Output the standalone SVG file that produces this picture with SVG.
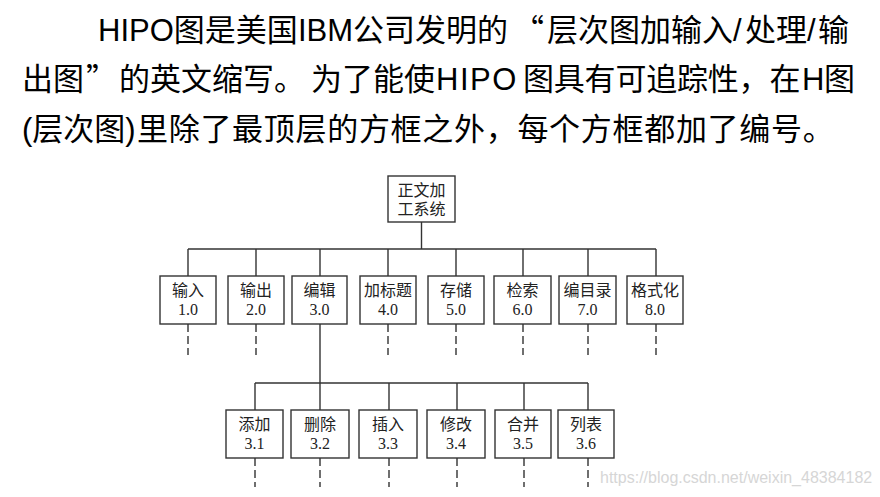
<svg xmlns="http://www.w3.org/2000/svg" width="880" height="497" viewBox="0 0 880 497">
<style>
.hd{font-family:"Liberation Sans","Noto Sans CJK SC",sans-serif;font-size:31px;fill:#000}
.q{font-family:"Noto Sans CJK SC",sans-serif}
.box{fill:#fff;stroke:#333;stroke-width:1.4}
.t{font-family:"Liberation Serif","Noto Sans CJK SC",serif;font-size:16px;fill:#222;text-anchor:middle}
.ln{stroke:#333;stroke-width:1.4;fill:none}
.dash{stroke:#333;stroke-width:1.4;fill:none;stroke-dasharray:8 4}
.wm{font-family:"Liberation Sans",Arial,sans-serif;font-size:16px;fill:#d6d6d6}
</style>
<rect width="880" height="497" fill="#fff"/>
<g id="header">
<text class="hd" y="41"><tspan x="98">HIPO图是美国</tspan><tspan x="298">IBM公司发明的</tspan><tspan class="q" x="513">“</tspan><tspan x="547">层次图加输入/</tspan><tspan x="745">处理/</tspan><tspan x="818">输</tspan></text>
<text class="hd" y="90"><tspan x="22">出图</tspan><tspan class="q" x="86">”</tspan><tspan x="119">的英文缩写。</tspan><tspan x="311">为了能使</tspan><tspan x="436" letter-spacing="1.5">HIPO</tspan><tspan x="523" letter-spacing="-0.2">图具有可追踪性，在</tspan><tspan x="802">H</tspan><tspan x="824">图</tspan></text>
<text class="hd" y="140"><tspan x="22">(层次图)</tspan><tspan x="137" letter-spacing="0.7">里除了最顶层的方框之外，每个方框都加了编号。</tspan></text>
</g>
<g id="connectors">
<line class="ln" x1="421.5" y1="222" x2="421.5" y2="249"/>
<line class="ln" x1="188" y1="249" x2="656" y2="249"/>
<line class="ln" x1="188" y1="249" x2="188" y2="276"/>
<line class="ln" x1="256" y1="249" x2="256" y2="276"/>
<line class="ln" x1="320" y1="249" x2="320" y2="276"/>
<line class="ln" x1="388" y1="249" x2="388" y2="276"/>
<line class="ln" x1="456" y1="249" x2="456" y2="276"/>
<line class="ln" x1="523" y1="249" x2="523" y2="276"/>
<line class="ln" x1="588" y1="249" x2="588" y2="276"/>
<line class="ln" x1="656" y1="249" x2="656" y2="276"/>
<line class="dash" x1="188" y1="324" x2="188" y2="355"/>
<line class="dash" x1="256" y1="324" x2="256" y2="355"/>
<line class="dash" x1="388" y1="324" x2="388" y2="355"/>
<line class="dash" x1="456" y1="324" x2="456" y2="355"/>
<line class="dash" x1="523" y1="324" x2="523" y2="355"/>
<line class="dash" x1="588" y1="324" x2="588" y2="355"/>
<line class="dash" x1="656" y1="324" x2="656" y2="355"/>
<line class="ln" x1="320" y1="324" x2="320" y2="410"/>
<line class="ln" x1="255" y1="383" x2="588" y2="383"/>
<line class="ln" x1="255" y1="383" x2="255" y2="410"/>
<line class="ln" x1="389" y1="383" x2="389" y2="410"/>
<line class="ln" x1="457" y1="383" x2="457" y2="410"/>
<line class="ln" x1="524" y1="383" x2="524" y2="410"/>
<line class="ln" x1="588" y1="383" x2="588" y2="410"/>
<line class="dash" x1="255" y1="458" x2="255" y2="487"/>
<line class="dash" x1="320" y1="458" x2="320" y2="487"/>
<line class="dash" x1="389" y1="458" x2="389" y2="487"/>
<line class="dash" x1="457" y1="458" x2="457" y2="487"/>
<line class="dash" x1="524" y1="458" x2="524" y2="487"/>
<line class="dash" x1="588" y1="458" x2="588" y2="487"/>
</g>
<g id="n0"><rect class="box" x="388" y="176" width="67" height="46"/><text class="t" x="421.5" y="196">正文加</text><text class="t" x="421.5" y="215">工系统</text></g>
<g id="n1"><rect class="box" x="160" y="276" width="56" height="48"/><text class="t" x="188" y="296">输入</text><text class="t" x="188" y="315">1.0</text></g>
<g id="n2"><rect class="box" x="228" y="276" width="56" height="48"/><text class="t" x="256" y="296">输出</text><text class="t" x="256" y="315">2.0</text></g>
<g id="n3"><rect class="box" x="292" y="276" width="55" height="48"/><text class="t" x="319.5" y="296">编辑</text><text class="t" x="319.5" y="315">3.0</text></g>
<g id="n4"><rect class="box" x="360" y="276" width="56" height="48"/><text class="t" x="388" y="296">加标题</text><text class="t" x="388" y="315">4.0</text></g>
<g id="n5"><rect class="box" x="428" y="276" width="56" height="48"/><text class="t" x="456" y="296">存储</text><text class="t" x="456" y="315">5.0</text></g>
<g id="n6"><rect class="box" x="494" y="276" width="57" height="48"/><text class="t" x="522.5" y="296">检索</text><text class="t" x="522.5" y="315">6.0</text></g>
<g id="n7"><rect class="box" x="559" y="276" width="57" height="48"/><text class="t" x="587.5" y="296">编目录</text><text class="t" x="587.5" y="315">7.0</text></g>
<g id="n8"><rect class="box" x="627" y="276" width="56" height="48"/><text class="t" x="655" y="296">格式化</text><text class="t" x="655" y="315">8.0</text></g>
<g id="n31"><rect class="box" x="226" y="410" width="57" height="48"/><text class="t" x="254.5" y="430">添加</text><text class="t" x="254.5" y="449">3.1</text></g>
<g id="n32"><rect class="box" x="291" y="410" width="58" height="48"/><text class="t" x="320" y="430">删除</text><text class="t" x="320" y="449">3.2</text></g>
<g id="n33"><rect class="box" x="359" y="410" width="58" height="48"/><text class="t" x="388" y="430">插入</text><text class="t" x="388" y="449">3.3</text></g>
<g id="n34"><rect class="box" x="427" y="410" width="58" height="48"/><text class="t" x="456" y="430">修改</text><text class="t" x="456" y="449">3.4</text></g>
<g id="n35"><rect class="box" x="495" y="410" width="56" height="48"/><text class="t" x="523" y="430">合并</text><text class="t" x="523" y="449">3.5</text></g>
<g id="n36"><rect class="box" x="558" y="410" width="56" height="48"/><text class="t" x="586" y="430">列表</text><text class="t" x="586" y="449">3.6</text></g>
<text class="wm" x="600" y="483">https://blog.csdn.net/weixin_48384182</text>
</svg>
